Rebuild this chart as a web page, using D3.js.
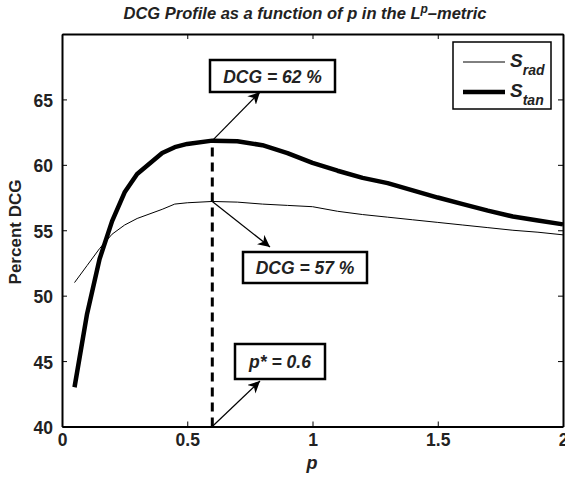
<!DOCTYPE html>
<html><head><meta charset="utf-8">
<script src="https://cdn.jsdelivr.net/npm/d3@7"></script>
<style>body{margin:0;background:#fff;}svg{display:block;font-family:"Liberation Sans",Arial,sans-serif;}</style>
</head><body>
<svg id="c" width="565" height="478"></svg>
<script>
const pValues = [0.05,0.1,0.15,0.2,0.25,0.3,0.4,0.45,0.5,0.6,0.7,0.8,0.9,1.0,1.1,1.2,1.3,1.4,1.5,1.6,1.7,1.8,1.9,2.0];
const sRad = [51.0,52.3,53.6,54.7,55.4,55.9,56.6,57.0,57.1,57.2,57.15,57.0,56.9,56.8,56.45,56.2,56.0,55.8,55.6,55.4,55.2,55.0,54.85,54.65];
const sTan = [43.0,48.6,52.8,55.7,57.9,59.3,60.9,61.35,61.6,61.85,61.8,61.5,60.9,60.15,59.55,59.0,58.6,58.05,57.5,57.0,56.5,56.05,55.75,55.45];
const xTicks = [0,0.5,1,1.5,2];
const xTickLabels = ["0","0.5","1","1.5","2"];
const yTicks = [40,45,50,55,60,65];
const seriesNames = ["rad","tan"];
const pStar = 0.6, peakTan = 61.85, peakRad = 57.2;
const annTexts = ["DCG = 62 %","DCG = 57 %","p* = 0.6"];

(function(){
const svg = d3.select("#c");
const m = {l:62, r:563, t:34, b:426.5};
const x = d3.scaleLinear().domain([0,2]).range([m.l,m.r]);
const y = d3.scaleLinear().domain([40,70]).range([m.b,m.t]);
const FF = "'Liberation Sans',Arial,sans-serif";

svg.append("defs").append("marker").attr("id","ah").attr("viewBox","0 0 10 10")
  .attr("refX",10).attr("refY",5).attr("markerWidth",12).attr("markerHeight",12)
  .attr("markerUnits","userSpaceOnUse").attr("orient","auto")
  .append("path").attr("d","M0,0 L10,5 L0,10 L3,5 Z").attr("fill","#000");

const gB = svg.append("g").attr("transform",`translate(0,${m.b})`)
  .call(d3.axisBottom(x).tickValues(xTicks).tickFormat((d,i)=>xTickLabels[i]).tickSizeInner(-5).tickSizeOuter(0).tickPadding(7));
const gT = svg.append("g").attr("transform",`translate(0,${m.t})`)
  .call(d3.axisTop(x).tickValues(xTicks).tickFormat("").tickSizeInner(-5).tickSizeOuter(0));
const gL = svg.append("g").attr("transform",`translate(${m.l},0)`)
  .call(d3.axisLeft(y).tickValues(yTicks).tickSizeInner(-5).tickSizeOuter(0).tickPadding(9));
const gR = svg.append("g").attr("transform",`translate(${m.r},0)`)
  .call(d3.axisRight(y).tickValues(yTicks).tickFormat("").tickSizeInner(-5).tickSizeOuter(0));
[gB,gT,gL,gR].forEach(g=>{
  g.selectAll(".domain").attr("stroke","#000").attr("stroke-width",2);
  g.selectAll(".tick line").attr("stroke","#000").attr("stroke-width",1);
  g.selectAll("text").attr("font-size",17.5).attr("font-weight","bold").attr("fill","#222")
   .attr("font-family",FF);
});
gL.selectAll(".tick text").attr("dy","0.4em");

const line = d3.line().x((d,i)=>x(pValues[i])).y(d=>y(d));
svg.append("path").datum(sRad).attr("d",line).attr("fill","none").attr("stroke","#000").attr("stroke-width",1);
svg.append("path").datum(sTan).attr("d",line).attr("fill","none").attr("stroke","#000").attr("stroke-width",4.5).attr("stroke-linejoin","round");

svg.append("line").attr("x1",x(pStar)).attr("x2",x(pStar)).attr("y1",y(40)).attr("y2",y(peakTan))
  .attr("stroke","#000").attr("stroke-width",3).attr("stroke-dasharray","9,6");

const anns = [
  {text:annTexts[0], bx:210, by:60, bw:125, bh:32, fx:x(pStar), fy:y(peakTan), tx:260, ty:92},
  {text:annTexts[1], bx:243, by:252, bw:124, bh:31, fx:x(pStar), fy:y(peakRad), tx:270, ty:247},
  {text:annTexts[2], bx:235, by:344, bw:90, bh:35, fx:x(pStar), fy:y(40), tx:260, ty:381}
];
anns.forEach(a=>{
  svg.append("line").attr("x1",a.fx).attr("y1",a.fy).attr("x2",a.tx).attr("y2",a.ty)
    .attr("stroke","#000").attr("stroke-width",1.2).attr("marker-end","url(#ah)");
  svg.append("rect").attr("x",a.bx).attr("y",a.by).attr("width",a.bw).attr("height",a.bh)
    .attr("fill","#fff").attr("stroke","#000").attr("stroke-width",2.5);
  svg.append("text").attr("x",a.bx+a.bw/2).attr("y",a.by+a.bh/2+6.5).attr("text-anchor","middle")
    .attr("font-size",17.5).attr("font-weight","bold").attr("font-style","italic").attr("fill","#222").text(a.text);
});

const lg = svg.append("g");
lg.append("rect").attr("x",453).attr("y",42).attr("width",98).attr("height",67)
  .attr("fill","#fff").attr("stroke","#000").attr("stroke-width",1.5);
seriesNames.forEach((n,i)=>{
  const yy = 62 + i*30;
  lg.append("line").attr("x1",463).attr("x2",505).attr("y1",yy).attr("y2",yy)
    .attr("stroke","#000").attr("stroke-width",i===0?1:4.5);
  const t = lg.append("text").attr("x",510).attr("y",yy+5).attr("font-size",19).attr("font-weight","bold").attr("font-style","italic").attr("fill","#222");
  t.append("tspan").text("S");
  t.append("tspan").attr("dy",8).attr("font-size",14).text(n);
});

const tt = svg.append("text").attr("x",305).attr("y",19).attr("text-anchor","middle")
  .attr("font-size",16.5).attr("font-weight","bold").attr("font-style","italic").attr("fill","#222");
tt.append("tspan").text("DCG Profile as a function of p in the L");
tt.append("tspan").attr("dy",-6).attr("font-size",12).text("p");
tt.append("tspan").attr("dy",6).text("\u2013metric");

svg.append("text").attr("x",312).attr("y",469).attr("text-anchor","middle")
  .attr("font-size",18).attr("font-weight","bold").attr("font-style","italic").attr("fill","#222").text("p");
svg.append("text").attr("transform","translate(21,232) rotate(-90)").attr("text-anchor","middle")
  .attr("font-size",17).attr("font-weight","bold").attr("fill","#222").text("Percent DCG");
})();
</script>
</body></html>
